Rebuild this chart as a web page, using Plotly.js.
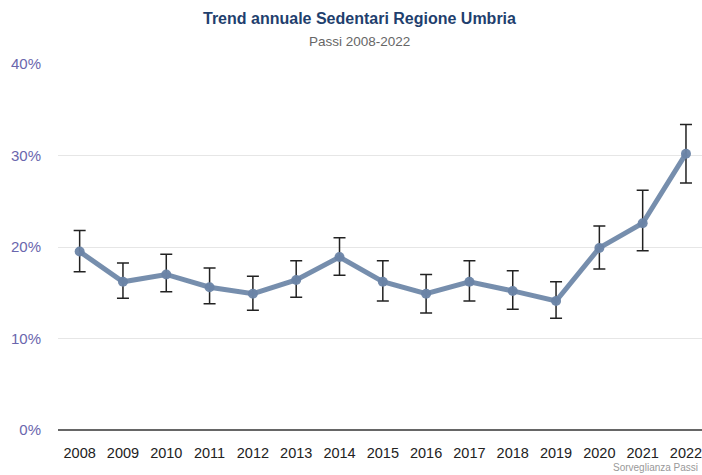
<!DOCTYPE html>
<html>
<head>
<meta charset="utf-8">
<script src="https://cdn.plot.ly/plotly-3.0.1.min.js"></script>
<style>html,body{margin:0;padding:0;background:#fff;}#chart{width:702px;height:475px;}</style>
</head>
<body>
<div id="chart"></div>
<script>
const years = ["2008","2009","2010","2011","2012","2013","2014","2015","2016","2017","2018","2019","2020","2021","2022"];
const values = [19.5, 16.2, 17.0, 15.6, 14.9, 16.4, 18.9, 16.2, 14.9, 16.2, 15.2, 14.1, 19.9, 22.6, 30.2];
const upper  = [21.8, 18.25, 19.2, 17.7, 16.8, 18.5, 21.0, 18.5, 17.0, 18.5, 17.4, 16.2, 22.3, 26.2, 33.4];
const lower  = [17.3, 14.4, 15.1, 13.8, 13.1, 14.5, 16.9, 14.1, 12.8, 14.1, 13.2, 12.2, 17.6, 19.6, 27.0];
const yTicks = [0, 10, 20, 30, 40];
const yTickLabels = ["0%", "10%", "20%", "30%", "40%"];

const errPlus = upper.map((u, i) => u - values[i]);
const errMinus = lower.map((l, i) => values[i] - l);

const trace = {
  x: years, y: values, type: "scatter", mode: "lines+markers",
  line: {color: "rgba(106,132,166,0.92)", width: 5},
  marker: {color: "rgba(106,132,166,0.95)", size: 10},
  error_y: {type: "data", symmetric: false, array: errPlus, arrayminus: errMinus,
            color: "#222", thickness: 1.5, width: 6},
  hoverinfo: "skip"
};

const pw = 702 - 58, ph = 475 - 64 - 45;
function px(x){ return (x - 58) / pw; }
function py(y){ return (475 - 45 - y) / ph; }

const layout = {
  width: 702, height: 475,
  margin: {l: 58, r: 0, t: 64, b: 45},
  paper_bgcolor: "#fff", plot_bgcolor: "#fff",
  font: {family: "Liberation Sans, Arial, sans-serif"},
  showlegend: false,
  xaxis: {type: "category", range: [-0.5, 14.37], showgrid: false, zeroline: false,
          showline: false, ticks: "", tickfont: {size: 14.5, color: "#222"}, ticklabelstandoff: 12},
  yaxis: {range: [0, 40], tickvals: yTicks, ticktext: yTickLabels, showgrid: true,
          gridcolor: "#e6e6e6", gridwidth: 1, zeroline: true, zerolinecolor: "#666", zerolinewidth: 1.5,
          showline: false, ticks: "", tickfont: {size: 15, color: "#6a66ad"}, ticklabelstandoff: 16},
  annotations: [
    {text: "<b>Trend annuale Sedentari Regione Umbria</b>", xref: "paper", yref: "paper",
     x: px(359), y: py(18), xanchor: "center", yanchor: "middle", showarrow: false,
     font: {size: 16, color: "#1f3f6e"}},
    {text: "Passi 2008-2022", xref: "paper", yref: "paper",
     x: px(359), y: py(41), xanchor: "center", yanchor: "middle", showarrow: false,
     font: {size: 13.5, color: "#666"}},
    {text: "Sorveglianza Passi", xref: "paper", yref: "paper",
     x: px(700), y: py(468), xanchor: "right", yanchor: "middle", showarrow: false,
     font: {size: 10, color: "#999"}}
  ]
};
Plotly.newPlot("chart", [trace], layout, {displayModeBar: false, staticPlot: true});
</script>
</body>
</html>
